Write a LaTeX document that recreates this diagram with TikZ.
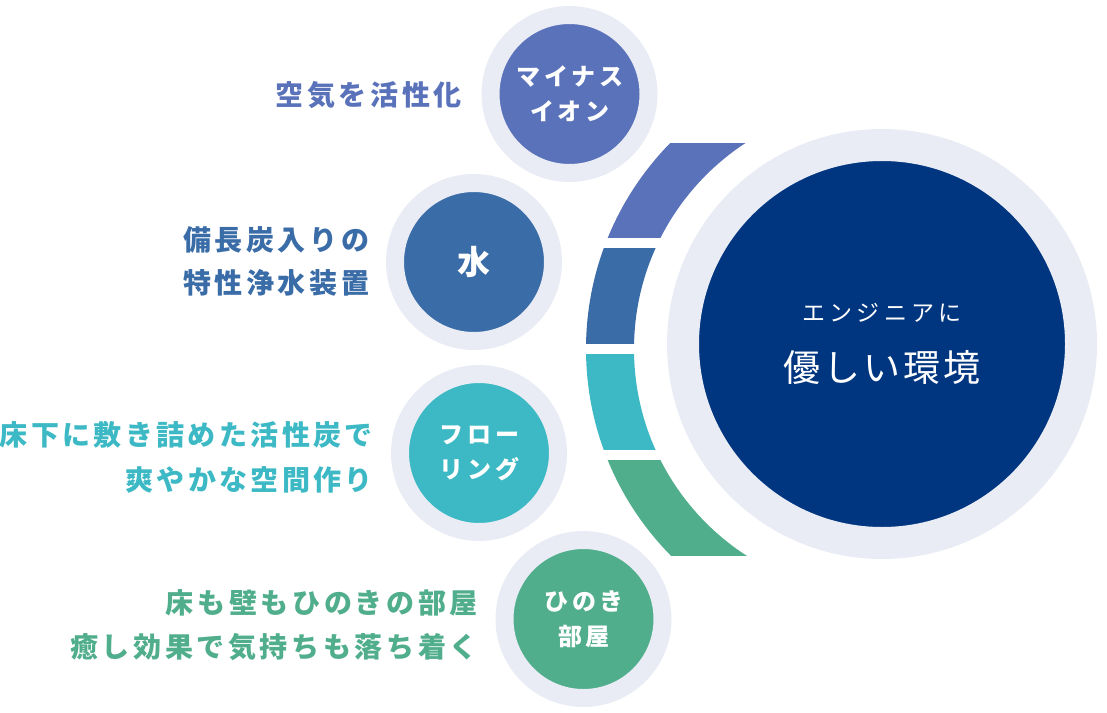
\documentclass[tikz,border=0pt]{standalone}
\usepackage{fontspec}
\newfontfamily\jpA{Noto Sans CJK JP}[LetterSpace=13]
\newfontfamily\jpE{Noto Sans CJK JP}[LetterSpace=12]
\newfontfamily\jpD{Noto Sans CJK JP}[LetterSpace=16]
\newfontfamily\jpC{Noto Sans CJK JP}[LetterSpace=18]
\newfontfamily\jpB{Noto Sans CJK JP}[LetterSpace=8]
\definecolor{cA}{HTML}{5A72BA}
\definecolor{cB}{HTML}{3A6CA8}
\definecolor{cC}{HTML}{3CB9C4}
\definecolor{cD}{HTML}{50AE8C}
\definecolor{cDark}{HTML}{003680}
\definecolor{cLight}{HTML}{E9ECF4}
\tikzset{
  smallcirc/.style={circle, draw=cLight, line width=18pt, minimum size=158pt, inner sep=0pt, outer sep=0pt},
  bigcirc/.style={circle, draw=cLight, fill=cDark, line width=32pt, minimum size=398pt, inner sep=0pt, outer sep=0pt},
  label/.style={anchor=east, align=right, inner sep=0pt, font=\jpA\bfseries\fontsize{28}{44}\selectfont},
  intext/.style={align=center, inner sep=0pt, text=white, font=\jpD\bfseries\fontsize{24}{35}\selectfont}
}
\begin{document}
\begin{tikzpicture}[x=1pt,y=-1pt]
\useasboundingbox (0,0) rectangle (1107,712);
% arc segments
\coordinate (ac) at (880,349);
\foreach \ya/\yb/\col in {143/237.5/cA, 248.5/343.5/cB, 354.5/449/cC, 460.5/555/cD}{
  \begin{scope}
    \clip (0,\ya) rectangle (880,\yb);
    \fill[\col, even odd rule] (ac) circle[radius=294] (ac) circle[radius=246];
  \end{scope}
}
% big circle
\node[bigcirc] (big) at (882,344) {};
\node[inner sep=0pt, text=white, font=\jpC\fontsize{23}{26}\selectfont] (bigA) at (882,313) {エンジニアに};
\node[inner sep=0pt, text=white, font=\jpB\fontsize{37}{44}\selectfont] (bigB) at (882,367.5) {優しい環境};
% small circles
\node[smallcirc, fill=cA] (s1) at (569.5,94) {};
\node[smallcirc, fill=cB] (s2) at (474,262) {};
\node[smallcirc, fill=cC] (s3) at (479,453) {};
\node[smallcirc, fill=cD] (s4) at (583.5,619) {};
\node[intext] (t1) at (570,94) {マイナス\\イオン};
\node[intext, font=\jpA\bfseries\fontsize{33}{40}\selectfont] (t2) at (474,262) {水};
\node[intext] (t3) at (479.5,453) {フロー\\リング};
\node[intext] (t4) at (584,619) {ひのき\\部屋};
% labels
\node[label, text=cA] (l1) at (462,95) {空気を活性化};
\node[label, text=cB, font=\jpA\bfseries\fontsize{28}{43}\selectfont] (l2) at (369.5,261.5) {備長炭入りの\\特性浄水装置};
\node[label, text=cC, font=\jpE\bfseries\fontsize{28}{45}\selectfont] (l3) at (373,457.5) {床下に敷き詰めた活性炭で\\爽やかな空間作り};
\node[label, text=cD] (l4) at (478,625) {床も壁もひのきの部屋\\癒し効果で気持ちも落ち着く};
\end{tikzpicture}
\end{document}
